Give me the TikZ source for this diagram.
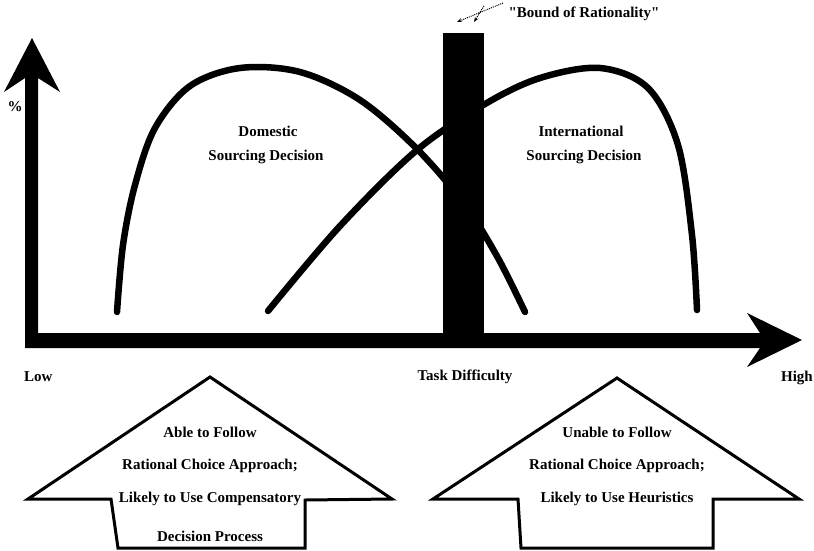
\documentclass[tikz,border=0pt]{standalone}
\usepackage{fontspec}
\setmainfont{Liberation Serif}[Ligatures=TeXOff]
\usetikzlibrary{arrows.meta}
\tikzset{
  lbl/.style={font=\bfseries\fontsize{15}{16}\selectfont, inner sep=0pt},
  curve/.style={line width=6.5pt, line cap=round},
  house/.style={line width=3pt, line join=miter, fill=white},
}
\begin{document}
\begin{tikzpicture}[x=1pt,y=-1pt]
\useasboundingbox (0,0) rectangle (814,550);
% curves
\draw[curve] plot[smooth, tension=0.55] coordinates {(117,312) (123,245) (135,185) (155,128) (190,86) (240,68) (300,72) (360,100) (417,149) (465,205) (498,258) (525,312)};
\draw[curve] plot[smooth, tension=0.55] coordinates {(268,311) (340,226) (417,150) (485,104) (540,78) (600,68) (648,88) (678,145) (692,235) (697,310)};
% bound of rationality bar
\fill (443,33) rectangle (484,348);
% axes
\fill (32,38) -- (60,92) -- (38,78) -- (38,333) -- (760,333) -- (747,313) -- (802,340) -- (747,367) -- (760,348) -- (25,348) -- (25,78) -- (4,92) -- cycle;
% dotted arrows
\draw[densely dotted, line width=1pt, -{Stealth[length=5pt]}] (503,3) -- (457,22);
\draw[densely dotted, line width=1pt, -{Stealth[length=5pt]}] (484,6) -- (474,22);
% labels
\node[lbl] (bound) at (584,14) {"Bound of Rationality"};
\node[lbl] (pct) at (15,107) {\%};
\node[lbl] (dom1) at (268,131) {Domestic};
\node[lbl] (dom2) at (266,157) {Sourcing Decision};
\node[lbl] (int1) at (581,131) {International};
\node[lbl] (int2) at (584,157) {Sourcing Decision};
\node[lbl, anchor=west] (low) at (24,377) {Low};
\node[lbl] (task) at (465,377) {Task Difficulty};
\node[lbl, anchor=east] (high) at (813,378) {High};
% left house
\draw[house] (210,377) -- (392,499) -- (305,500) -- (305,548) -- (118,548) -- (111,499) -- (28,499) -- cycle;
\node[lbl] (l1) at (210,432) {Able to Follow};
\node[lbl] (l2) at (210,466) {Rational Choice Approach;};
\node[lbl] (l3) at (210,499) {Likely to Use Compensatory};
\node[lbl] (l4) at (210,536) {Decision Process};
% right house
\draw[house] (617,378) -- (799,499) -- (713,499) -- (713,548) -- (521,548) -- (518,499) -- (433,499) -- cycle;
\node[lbl] (r1) at (617,432) {Unable to Follow};
\node[lbl] (r2) at (617,466) {Rational Choice Approach;};
\node[lbl] (r3) at (617,499) {Likely to Use Heuristics};
\end{tikzpicture}
\end{document}
